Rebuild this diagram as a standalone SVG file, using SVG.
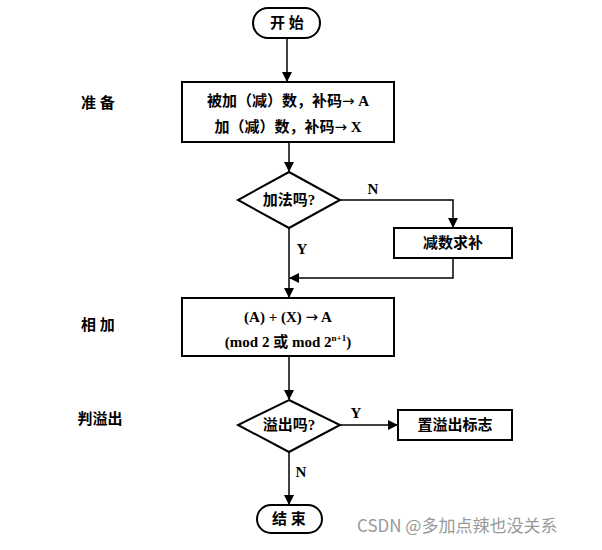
<svg xmlns="http://www.w3.org/2000/svg" width="602" height="550" viewBox="0 0 602 550">
<style>
.s{fill:#fff;stroke:#000;stroke-width:2}
.t{font-family:"Liberation Serif","Noto Sans CJK SC",serif;font-size:15px;font-weight:bold;text-anchor:middle;fill:#000}
.l{fill:none;stroke:#000;stroke-width:1.5}
.ar{font-family:"DejaVu Sans",sans-serif;font-weight:normal}
</style>
<defs><marker id="a" markerWidth="10" markerHeight="10" refX="9" refY="5" orient="auto" markerUnits="userSpaceOnUse"><path d="M0,0 L10,5 L0,10 z"/></marker></defs>
<rect width="602" height="550" fill="#fff"/>
<g id="connectors">
<path class="l" d="M287,38 V81" marker-end="url(#a)"/>
<path class="l" d="M289,142 V171" marker-end="url(#a)"/>
<path class="l" d="M340,200 H453 V227" marker-end="url(#a)"/>
<path class="l" d="M289,228 V297" marker-end="url(#a)"/>
<path class="l" d="M453,258 V278 H290" marker-end="url(#a)"/>
<path class="l" d="M289,356 V399" marker-end="url(#a)"/>
<path class="l" d="M340,425 H397" marker-end="url(#a)"/>
<path class="l" d="M289,452 V504" marker-end="url(#a)"/>
</g>
<g id="start"><rect class="s" x="253" y="8" width="67" height="30" rx="15"/><text class="t" x="287" y="28">开 始</text></g>
<g id="init"><rect class="s" x="182" y="82" width="212" height="60"/><text class="t" x="288" y="106">被加（减）数，补码<tspan class="ar">→</tspan> A</text><text class="t" x="288" y="132">加（减）数，补码<tspan class="ar">→</tspan> X</text></g>
<g id="d1"><polygon class="s" points="289,172 340,200 289,228 238,200"/><text class="t" x="289" y="205">加法吗?</text></g>
<text class="t" x="373" y="194">N</text>
<text class="t" x="302" y="254">Y</text>
<g id="neg"><rect class="s" x="394" y="228" width="118" height="30"/><text class="t" x="453" y="248">减数求补</text></g>
<g id="add"><rect class="s" x="182" y="298" width="212" height="58"/><text class="t" x="288" y="322">(A) + (X) <tspan class="ar">→</tspan> A</text><text class="t" x="288" y="347">(mod 2  或 mod 2<tspan font-size="9" dy="-6">n+1</tspan><tspan dy="6">)</tspan></text></g>
<g id="d2"><polygon class="s" points="289,400 340,425 289,452 238,425"/><text class="t" x="289" y="430">溢出吗?</text></g>
<text class="t" x="356" y="418">Y</text>
<text class="t" x="301" y="477">N</text>
<g id="ovf"><rect class="s" x="398" y="410" width="114" height="30"/><text class="t" x="455" y="430">置溢出标志</text></g>
<g id="end"><rect class="s" x="257" y="505" width="65" height="28" rx="14"/><text class="t" x="289" y="524">结 束</text></g>
<text class="t" x="98" y="108">准 备</text>
<text class="t" x="98" y="330">相 加</text>
<text class="t" x="100" y="424">判溢出</text>
<text x="357" y="532" font-family="'Noto Sans CJK SC',sans-serif" font-size="17" fill="#999">CSDN @多加点辣也没关系</text>
</svg>
